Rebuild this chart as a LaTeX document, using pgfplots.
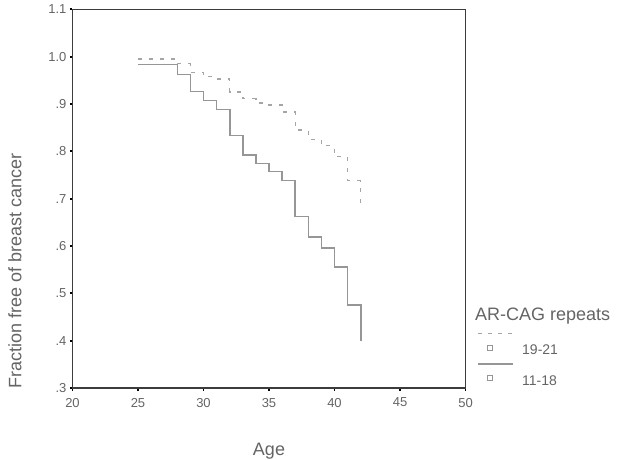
\documentclass[border=0pt]{standalone}
\usepackage{pgfplots}
\pgfplotsset{compat=1.18}
\usepackage{fontspec}
\setmainfont{Liberation Sans}
\definecolor{solidc}{RGB}{150,150,150}
\definecolor{dashc}{RGB}{165,165,165}
\definecolor{axcol}{RGB}{60,60,60}
\definecolor{txt}{RGB}{100,100,100}
\definecolor{sq}{RGB}{150,150,150}

\pgfplotstableread{
age surv
25 0.995
28 0.985
29 0.967
30 0.958
31 0.953
32 0.925
33 0.911
34 0.902
35 0.898
36 0.883
37 0.845
38 0.825
39 0.812
40 0.789
41 0.738
42 0.690
}\longrep
\pgfplotstableread{
age surv
25 0.983
28 0.962
29 0.926
30 0.907
31 0.888
32 0.833
33 0.792
34 0.774
35 0.757
36 0.738
37 0.662
38 0.619
39 0.596
40 0.556
41 0.475
42 0.400
}\shortrep

\begin{document}
\begin{tikzpicture}
\useasboundingbox (-72.5pt,-72pt) rectangle (564.5pt,388pt);
\begin{axis}[
  at={(0pt,0pt)}, anchor=south west,
  scale only axis, width=393pt, height=378.7pt,
  xmin=20, xmax=50, ymin=0.3, ymax=1.1,
  xtick={20,25,30,35,40,45,50},
  ytick={0.3,0.4,0.5,0.6,0.7,0.8,0.9,1.0,1.1},
  yticklabels={.3,.4,.5,.6,.7,.8,.9,1.0,1.1},
  tick pos=left, tick align=outside, major tick length=2.5pt,
  axis line style={axcol, line width=1.1pt},
  tick style={black, line width=1.8pt},
  ticklabel style={font=\fontsize{13}{15}\selectfont, text=txt},
  xticklabel style={yshift=-4pt},
  /pgf/number format/assume math mode=true,
  xlabel={Age}, ylabel={Fraction free of breast cancer},
  label style={font=\fontsize{18}{21}\selectfont, text=txt},
  xlabel style={at={(axis description cs:0.5,-0.177)}, anchor=base},
  ylabel style={at={(axis description cs:-0.13,0.309)}, anchor=base},
  legend style={draw=none, fill=none, at={(axis description cs:1.0318,0.119)}, anchor=north west,
    font=\fontsize{14}{16}\selectfont, text=txt, row sep=15pt, column sep=7pt, inner sep=0pt},
  legend cell align=left,
  clip=false,
]
\addplot[const plot, dashc, line width=1.4pt, dash pattern=on 4pt off 7pt,
  legend image code/.code={
    \draw[overlay, dashc, line width=1.2pt, dash pattern=on 3.5pt off 6.5pt] (0pt,17pt) -- (35pt,17pt);
    \draw[solid, sq, line width=0.6pt] (9.5pt,0.5pt) rectangle (14.5pt,5.5pt);
    \path[draw=none, fill=none] (0pt,0pt) rectangle (35pt,1pt);
  }] table[x=age,y=surv] {\longrep};
\addlegendentry{19-21}
\addplot[const plot, solidc, line width=1.6pt,
  legend image code/.code={
    \draw[overlay, solidc, line width=1.2pt] (0pt,17pt) -- (35pt,17pt);
    \draw[solid, sq, line width=0.6pt] (9.5pt,0.5pt) rectangle (14.5pt,5.5pt);
    \path[draw=none, fill=none] (0pt,0pt) rectangle (35pt,1pt);
  }] table[x=age,y=surv] {\shortrep};
\addlegendentry{11-18}
\node[anchor=base west, inner sep=0pt, font=\fontsize{18}{21}\selectfont, text=txt] at (axis description cs:1.024,0.178) {AR-CAG repeats};
\end{axis}
\end{tikzpicture}
\end{document}
